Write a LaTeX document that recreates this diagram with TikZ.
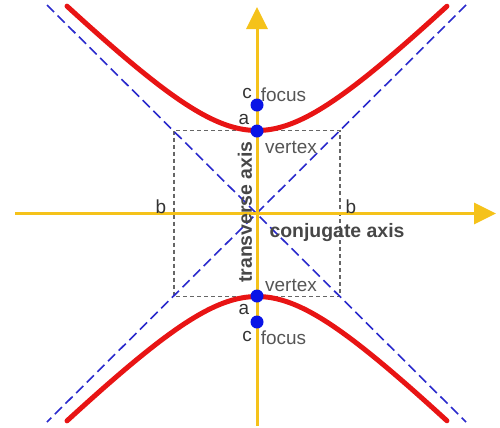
\documentclass[tikz,border=0pt]{standalone}
\usepackage{fontspec}
\setmainfont{Liberation Sans}
\usetikzlibrary{arrows.meta}
\definecolor{axisyellow}{HTML}{F5C21A}
\definecolor{hypred}{HTML}{E81414}
\definecolor{asymblue}{HTML}{2A2ACC}
\definecolor{dotblue}{HTML}{0A14E6}
\definecolor{boxgray}{HTML}{666666}
\definecolor{labdark}{HTML}{333333}
\definecolor{labgray}{HTML}{555555}
\tikzset{
  axisline/.style={draw=axisyellow, line width=3bp},
  axisarrow/.style={-{Triangle[length=22bp,width=21bp]}},
  hyper/.style={draw=hypred, line width=5bp, line cap=round},
  asym/.style={draw=asymblue, line width=1.6bp, dash pattern=on 10bp off 5bp},
  boxline/.style={draw=boxgray, line width=1.3bp, dash pattern=on 4bp off 3bp},
  pt/.style={circle, fill=dotblue, inner sep=0pt, minimum size=13bp},
  lab/.style={font=\fontsize{19}{21}\selectfont, text=labdark, inner sep=0pt},
  glab/.style={font=\fontsize{19}{21}\selectfont, text=labgray, inner sep=0pt},
  axlab/.style={font=\fontsize{19.5}{21}\selectfont\bfseries, text=labdark!90!white, inner sep=0pt}
}
\begin{document}
\begin{tikzpicture}[x=1bp,y=-1bp]
\useasboundingbox (0,0) rectangle (500,427);
% center
\coordinate (O) at (257,213.5);
% box corners
\coordinate (BTL) at (174,130.5);
\coordinate (BBR) at (340,296.5);
% asymptote ends
\coordinate (A1s) at (47,5);
\coordinate (A1e) at (466,422);
\coordinate (A2s) at (466,5);
\coordinate (A2e) at (47,422);
% axes ends
\coordinate (Hs) at (15,213.5);
\coordinate (He) at (496,213.5);
\coordinate (Vs) at (257,426);
\coordinate (Ve) at (257,7);
% box
\draw[boxline] (BTL) rectangle (BBR);
% asymptotes
\draw[asym] (A1s) -- (A1e);
\draw[asym] (A2s) -- (A2e);
% axes
\draw[axisline, axisarrow, draw=axisyellow, fill=axisyellow] (Hs) -- (He);
\draw[axisline, axisarrow, draw=axisyellow, fill=axisyellow] (Vs) -- (Ve);
% hyperbola branches
\draw[hyper] plot[domain=-1.566:1.566, samples=90, smooth] ({257+83*sinh(\x)}, {213.5-83*cosh(\x)});
\draw[hyper] plot[domain=-1.566:1.566, samples=90, smooth] ({257+83*sinh(\x)}, {213.5+83*cosh(\x)});
% points
\node[pt] (ftop) at (257,105) {};
\node[pt] (vtop) at (257,131) {};
\node[pt] (vbot) at (257,296) {};
\node[pt] (fbot) at (257,322) {};
% labels
\node[lab] (ctop) at (247,93) {c};
\node[glab] (focustop) at (283.5,94.5) {focus};
\node[lab] (atop) at (244,119) {a};
\node[glab] (vertextop) at (291,147) {vertex};
\node[lab] (bleft) at (161,207) {b};
\node[lab] (bright) at (351,207) {b};
\node[glab] (vertexbot) at (291,285) {vertex};
\node[lab] (abot) at (244,309) {a};
\node[lab] (cbot) at (247,336) {c};
\node[glab] (focusbot) at (283.5,337.5) {focus};
\node[axlab, anchor=base] (conj) at (337,237) {conjugate axis};
\node[axlab, rotate=90] (trans) at (245,212) {transverse axis};
\end{tikzpicture}
\end{document}
